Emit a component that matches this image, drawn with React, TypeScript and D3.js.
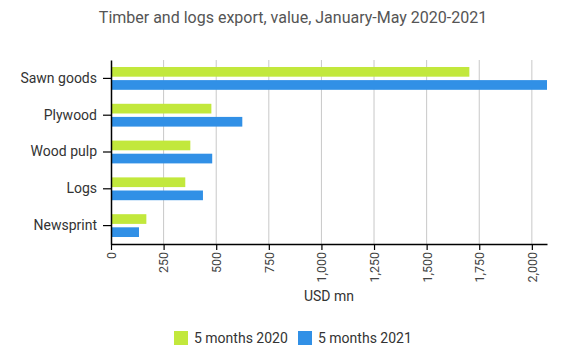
import React, { useEffect, useRef } from "react";
import * as d3 from "d3";

const categories = ["Sawn goods", "Plywood", "Wood pulp", "Logs", "Newsprint"];
const series2020 = [1703, 477, 377, 353, 168];
const series2021 = [2072, 624, 481, 437, 133];
const seriesNames = ["5 months 2020", "5 months 2021"];
const xTicks = [0, 250, 500, 750, 1000, 1250, 1500, 1750, 2000];

const colors = ["#c2e83c", "#3190e6"];

const App = () => {
  const ref = useRef<SVGSVGElement>(null);

  useEffect(() => {
    document.body.style.margin = "0";
    const svg = d3.select(ref.current);
    svg.selectAll("*").remove();

    const width = 569;
    const height = 362;
    const margin = { top: 60, right: 22, bottom: 118, left: 111 };
    const font = "Roboto, sans-serif";

    svg.attr("width", width).attr("height", height).style("display", "block");
    svg.append("rect").attr("width", width).attr("height", height).attr("fill", "#fff");

    const x = d3.scaleLinear()
      .domain([0, d3.max(series2021)!])
      .range([margin.left, width - margin.right]);

    const y = d3.scaleBand()
      .domain(categories)
      .range([margin.top, height - margin.bottom])
      .paddingInner(0.38)
      .paddingOuter(0.19);

    const inner = d3.scaleBand()
      .domain(seriesNames)
      .range([0, y.bandwidth()])
      .paddingInner(0.26);

    // gridlines
    svg.append("g")
      .selectAll("line")
      .data(xTicks.slice(1))
      .enter().append("line")
      .attr("x1", (d) => x(d))
      .attr("x2", (d) => x(d))
      .attr("y1", margin.top)
      .attr("y2", height - margin.bottom)
      .attr("stroke", "#c8c8c8")
      .attr("stroke-width", 1);

    // bars
    const data = categories.map((c, i) => ({ c, vals: [series2020[i], series2021[i]] }));
    const groups = svg.append("g")
      .selectAll("g")
      .data(data)
      .enter().append("g")
      .attr("transform", (d) => `translate(0,${y(d.c)})`);

    groups.selectAll("rect")
      .data((d) => d.vals.map((v, j) => ({ v, j })))
      .enter().append("rect")
      .attr("x", x(0))
      .attr("y", (d) => inner(seriesNames[d.j])!)
      .attr("width", (d) => x(d.v) - x(0))
      .attr("height", inner.bandwidth())
      .attr("fill", (d) => colors[d.j]);

    // x axis
    const xAxis = svg.append("g")
      .attr("transform", `translate(0,${height - margin.bottom})`)
      .call(d3.axisBottom(x).tickValues(xTicks).tickSize(6).tickSizeOuter(0).tickFormat(d3.format(",")));
    xAxis.select(".domain").attr("stroke", "#000").attr("stroke-width", 1.5);
    xAxis.selectAll(".tick line").attr("stroke", "#000").attr("stroke-width", 1.2);
    xAxis.selectAll("text")
      .attr("font-family", font)
      .attr("font-size", 12.5)
      .attr("fill", "#444")
      .attr("transform", "rotate(-90)")
      .attr("text-anchor", "end")
      .attr("x", -8)
      .attr("y", 0)
      .attr("dy", "0.35em");

    // y axis
    const yAxis = svg.append("g")
      .attr("transform", `translate(${margin.left},0)`)
      .call(d3.axisLeft(y).tickSize(8).tickSizeOuter(0));
    yAxis.select(".domain").attr("stroke", "#000").attr("stroke-width", 1.5);
    yAxis.selectAll(".tick line").attr("stroke", "#000").attr("stroke-width", 1.2);
    yAxis.selectAll("text")
      .attr("font-family", font)
      .attr("font-size", 14)
      .attr("fill", "#333")
      .attr("x", -14);

    // title
    svg.append("text")
      .attr("x", 293)
      .attr("y", 23)
      .attr("text-anchor", "middle")
      .attr("font-family", font)
      .attr("font-size", 16)
      .attr("fill", "#555")
      .text("Timber and logs export, value, January-May 2020-2021");

    // x axis title
    svg.append("text")
      .attr("x", (x.range()[0] + x.range()[1]) / 2)
      .attr("y", 301)
      .attr("text-anchor", "middle")
      .attr("font-family", font)
      .attr("font-size", 14)
      .attr("fill", "#333")
      .text("USD mn");

    // legend
    const legendX = [174, 298];
    const legend = svg.append("g")
      .selectAll("g")
      .data(seriesNames)
      .enter().append("g")
      .attr("transform", (d, i) => `translate(${legendX[i]},331)`);
    legend.append("rect")
      .attr("width", 14)
      .attr("height", 14)
      .attr("fill", (d, i) => colors[i]);
    legend.append("text")
      .attr("x", 20)
      .attr("y", 12)
      .attr("font-family", font)
      .attr("font-size", 14)
      .attr("fill", "#333")
      .text((d) => d);
  }, []);

  return <svg ref={ref}></svg>;
};

export default App;
